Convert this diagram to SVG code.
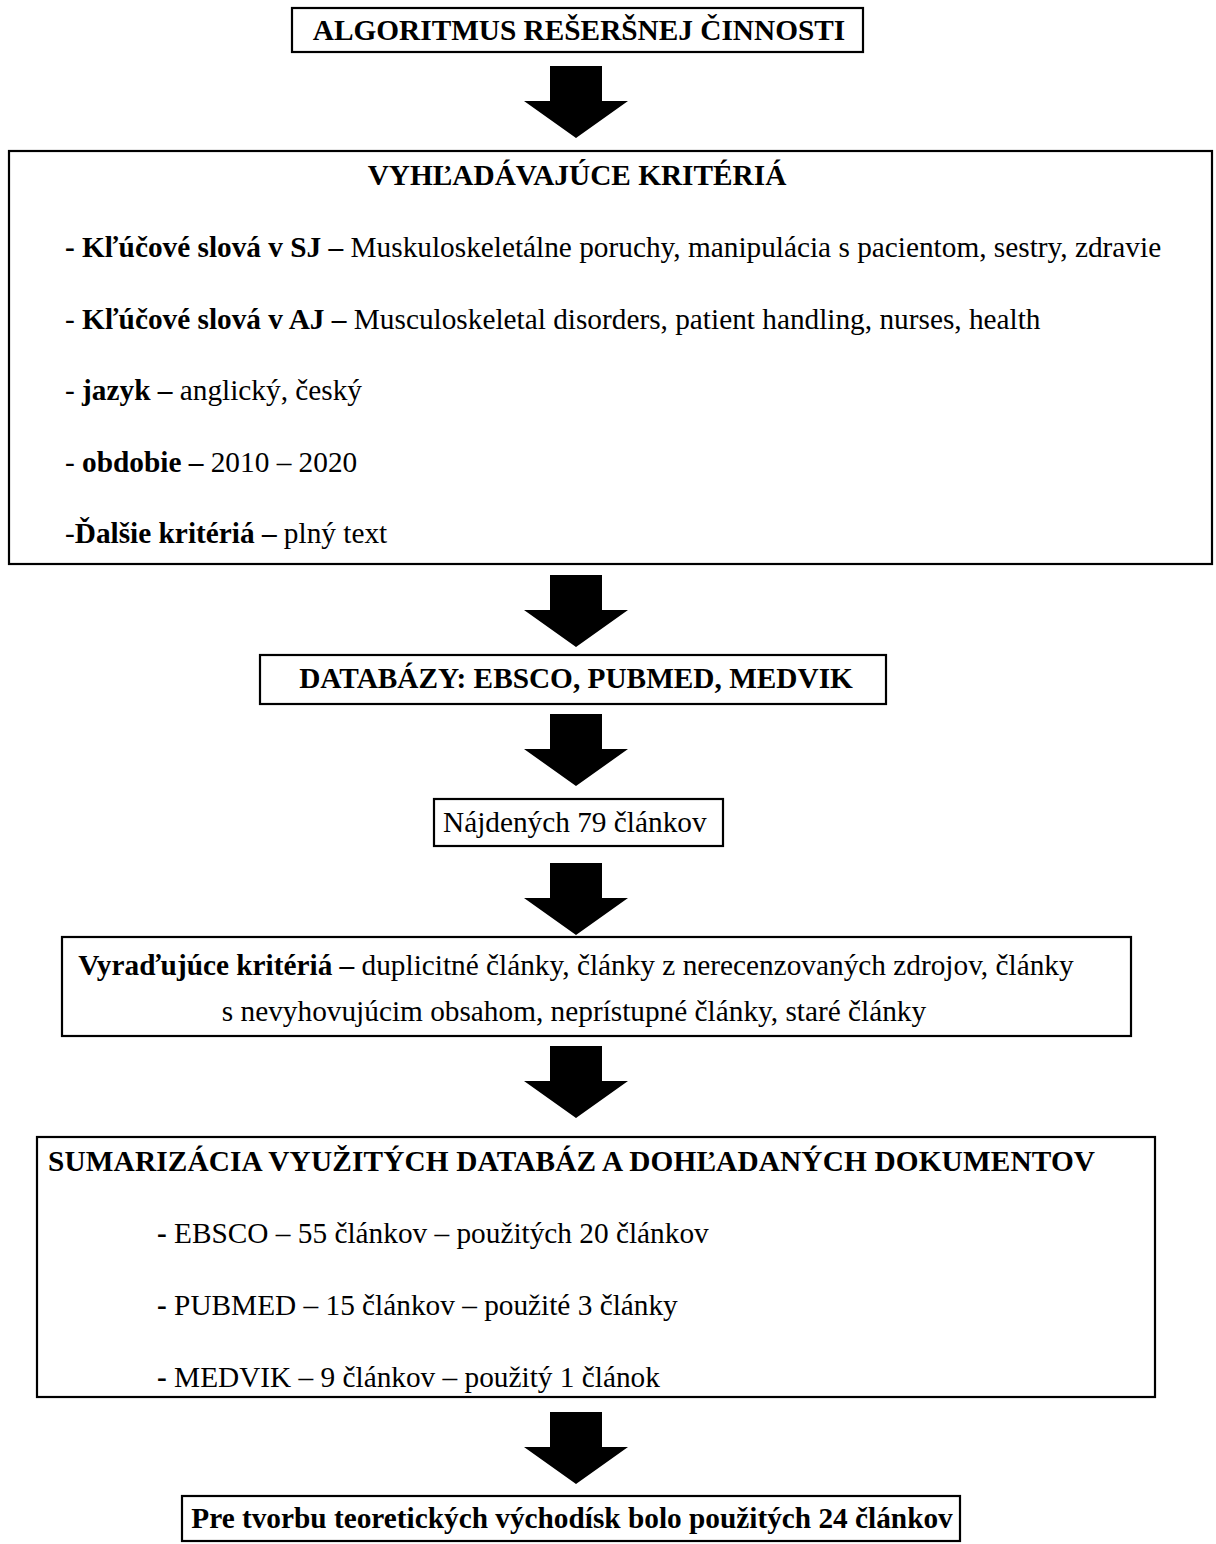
<svg xmlns="http://www.w3.org/2000/svg" xmlns:xlink="http://www.w3.org/1999/xlink" width="1216" height="1544" viewBox="0 0 1216 1544">
<style>
  .box { fill: #ffffff; stroke: #000000; stroke-width: 2.2; }
  .t { font-family: "Liberation Serif", "Times New Roman", serif; font-size: 29.3px; fill: #000000; }
  .b { font-weight: bold; }
  .arrow { fill: #000000; }
</style>
<defs>
  <path id="arr" d="M -26 0 H 26 V 35 H 52 L 0 72 L -52 35 H -26 Z"/>
</defs>
<rect width="1216" height="1544" fill="#ffffff"/>

<g id="connectors" class="arrow">
  <use xlink:href="#arr" href="#arr" transform="translate(576,66)"/>
  <use xlink:href="#arr" href="#arr" transform="translate(576,575)"/>
  <use xlink:href="#arr" href="#arr" transform="translate(576,714)"/>
  <use xlink:href="#arr" href="#arr" transform="translate(576,863)"/>
  <use xlink:href="#arr" href="#arr" transform="translate(576,1046)"/>
  <use xlink:href="#arr" href="#arr" transform="translate(576,1412)"/>
</g>

<g id="node-algoritmus">
  <rect class="box" x="292" y="8" width="571" height="44"/>
  <text class="t b" x="579" y="40" text-anchor="middle">ALGORITMUS REŠERŠNEJ ČINNOSTI</text>
</g>

<g id="node-kriteria">
  <rect class="box" x="9" y="151" width="1203" height="413"/>
  <text class="t b" x="577" y="185" text-anchor="middle">VYHĽADÁVAJÚCE KRITÉRIÁ</text>
  <text class="t" x="65" y="257"><tspan class="b">- Kľúčové slová v SJ –</tspan> Muskuloskeletálne poruchy, manipulácia s pacientom, sestry, zdravie</text>
  <text class="t" x="65" y="329">- <tspan class="b">Kľúčové slová v AJ –</tspan> Musculoskeletal disorders, patient handling, nurses, health</text>
  <text class="t" x="65" y="400">- <tspan class="b">jazyk –</tspan> anglický, český</text>
  <text class="t" x="65" y="472">- <tspan class="b">obdobie –</tspan> 2010 – 2020</text>
  <text class="t" x="65" y="543">-<tspan class="b">Ďalšie kritériá –</tspan> plný text</text>
</g>

<g id="node-databazy">
  <rect class="box" x="260" y="655" width="626" height="49"/>
  <text class="t b" x="576" y="688" text-anchor="middle">DATABÁZY: EBSCO, PUBMED, MEDVIK</text>
</g>

<g id="node-najdenych">
  <rect class="box" x="434" y="799" width="289" height="47"/>
  <text class="t" x="443" y="832">Nájdených 79 článkov</text>
</g>

<g id="node-vyradujuce">
  <rect class="box" x="62" y="937" width="1069" height="99"/>
  <text class="t" x="576" y="975" text-anchor="middle"><tspan class="b">Vyraďujúce kritériá –</tspan> duplicitné články, články z nerecenzovaných zdrojov, články</text>
  <text class="t" x="574" y="1021" text-anchor="middle">s nevyhovujúcim obsahom, neprístupné články, staré články</text>
</g>

<g id="node-sumarizacia">
  <rect class="box" x="37" y="1137" width="1118" height="260"/>
  <text class="t b" x="48" y="1171" textLength="1047" lengthAdjust="spacing">SUMARIZÁCIA VYUŽITÝCH DATABÁZ A DOHĽADANÝCH DOKUMENTOV</text>
  <text class="t" x="157" y="1243"><tspan class="b">-</tspan> EBSCO – 55 článkov – použitých 20 článkov</text>
  <text class="t" x="157" y="1315"><tspan class="b">-</tspan> PUBMED – 15 článkov – použité 3 články</text>
  <text class="t" x="157" y="1387"><tspan class="b">-</tspan> MEDVIK – 9 článkov – použitý 1 článok</text>
</g>

<g id="node-vysledok">
  <rect class="box" x="182" y="1496" width="778" height="45"/>
  <text class="t b" x="572" y="1528" text-anchor="middle">Pre tvorbu teoretických východísk bolo použitých 24 článkov</text>
</g>
</svg>
